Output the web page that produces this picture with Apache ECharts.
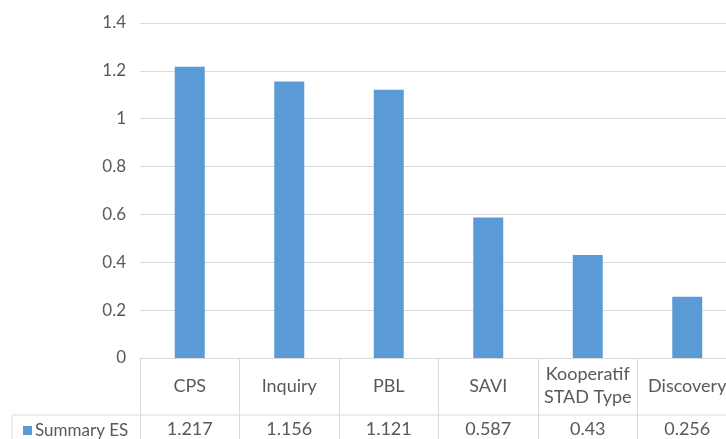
<!DOCTYPE html>
<html>
<head>
<meta charset="utf-8">
<script src="https://cdn.jsdelivr.net/npm/echarts@6/dist/echarts.min.js"></script>
<style>
  html, body { margin: 0; padding: 0; background: #fff; }
  #chart { width: 726px; height: 439px; }
</style>
</head>
<body>
<div id="chart"></div>
<script>
const categories = ['CPS', 'Inquiry', 'PBL', 'SAVI', 'Kooperatif\nSTAD Type', 'Discovery'];
const summaryES = [1.217, 1.156, 1.121, 0.587, 0.43, 0.256];
const seriesName = 'Summary ES';
const yTicks = { min: 0, max: 1.4, interval: 0.2 };

const font = 'Lato, "Liberation Sans", sans-serif';
const textColor = '#595959';
const lineColor = '#d9d9d9';

let chart = echarts.init(document.getElementById('chart'));

let option = {
    animation: false,
    legend: {
        data: [seriesName],
        left: 18,
        top: 417,
        icon: 'rect',
        itemWidth: 9,
        itemHeight: 9,
        itemGap: 3,
        textStyle: { color: textColor, fontSize: 17, fontFamily: font, padding: [0, 0, 0, -2] }
    },
    grid: { left: 140, top: 23, width: 597, height: 335, outerBoundsMode: 'none', containLabel: false },
    xAxis: [{
        type: 'category',
        data: categories,
        axisLine: { lineStyle: { color: lineColor, width: 1 } },
        axisTick: { show: true, interval: 0, length: 82, lineStyle: { color: lineColor } },
        axisLabel: {
            interval: 0, margin: 28, verticalAlign: 'middle',
            color: textColor, fontSize: 18, fontFamily: font, lineHeight: 23
        }
    }, {
        // values row of the data table
        type: 'category',
        position: 'bottom',
        data: summaryES.map(v => String(v)),
        axisLine: { show: false },
        axisTick: { show: false },
        axisLabel: {
            interval: 0, margin: 71, verticalAlign: 'middle',
            color: textColor, fontSize: 18, fontFamily: font
        }
    }],
    yAxis: {
        type: 'value',
        min: yTicks.min,
        max: yTicks.max,
        interval: yTicks.interval,
        axisLine: { show: false },
        axisTick: { show: false },
        axisLabel: { margin: 14, color: textColor, fontSize: 17, fontFamily: font },
        splitLine: { lineStyle: { color: lineColor, width: 1 } }
    },
    graphic: [
        { type: 'line', shape: { x1: 12, y1: 415, x2: 737, y2: 415 }, style: { stroke: lineColor, lineWidth: 1 } },
        { type: 'line', shape: { x1: 12, y1: 415, x2: 12, y2: 439 }, style: { stroke: lineColor, lineWidth: 1 } }
    ],
    series: [{
        name: seriesName,
        type: 'bar',
        data: summaryES,
        barWidth: 30,
        itemStyle: { color: '#5b9bd5' }
    }]
};

chart.setOption(option);
</script>
</body>
</html>
